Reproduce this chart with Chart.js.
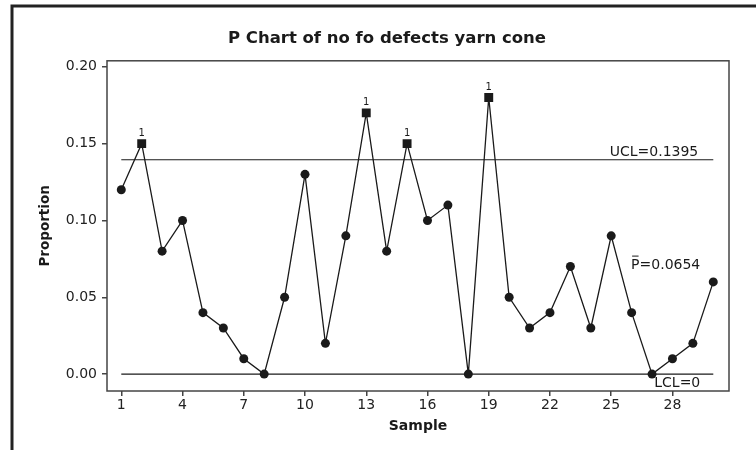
<!DOCTYPE html>
<html>
<head>
<meta charset="utf-8">
<script src="https://cdn.jsdelivr.net/npm/chart.js@4.4.0/dist/chart.umd.min.js"></script>
<style>
    html, body { margin: 0; padding: 0; background: #fff; }
    #wrap { width: 756px; height: 450px; }
</style>
</head>
<body>
<div id="wrap"><canvas id="pchart" width="756" height="450"></canvas></div>
<script>
// sample numbers and the proportion defective for each one
const samples = [1, 2, 3, 4, 5, 6, 7, 8, 9, 10, 11, 12, 13, 14, 15, 16, 17, 18, 19, 20, 21, 22, 23, 24, 25, 26, 27, 28, 29, 30];
const proportions = [0.12, 0.15, 0.08, 0.10, 0.04, 0.03, 0.01, 0.00, 0.05, 0.13, 0.02, 0.09, 0.17, 0.08, 0.15,
    0.10, 0.11, 0.00, 0.18, 0.05, 0.03, 0.04, 0.07, 0.03, 0.09, 0.04, 0.00, 0.01, 0.02, 0.06];
// samples flagged by test 1 (beyond the control limits)
const outOfControl = [2, 13, 15, 19];

const ucl = 0.1395;
const pBar = 0.0654;
const lcl = 0;

const xTicks = [1, 4, 7, 10, 13, 16, 19, 22, 25, 28];
const yTicks = [0.00, 0.05, 0.10, 0.15, 0.20];

const ink = '#1a1a1a';

let pointData = samples.map((s, i) => ({x: s, y: proportions[i]}));
let flagged = samples.map(s => outOfControl.includes(s));

// draws the outer frame, the plot box and the control line labels
const annotate = {
    id: 'annotate',
    beforeDraw(chart) {
        const ctx = chart.ctx;
        ctx.save();
        ctx.strokeStyle = '#222';
        ctx.lineWidth = 3;
        ctx.beginPath();
        ctx.moveTo(12, 450);
        ctx.lineTo(12, 6);
        ctx.lineTo(756, 6);
        ctx.stroke();
        ctx.restore();
    },
    afterDraw(chart) {
        const ctx = chart.ctx;
        const area = chart.chartArea;
        const xs = chart.scales.x;
        const ys = chart.scales.y;
        ctx.save();

        ctx.strokeStyle = '#444';
        ctx.lineWidth = 1.5;
        ctx.strokeRect(area.left, area.top, area.right - area.left, area.bottom - area.top);

        // "1" above each out of control point
        ctx.fillStyle = ink;
        ctx.font = '10px "DejaVu Sans"';
        ctx.textAlign = 'center';
        ctx.textBaseline = 'alphabetic';
        samples.forEach((s, i) => {
            if (flagged[i]) {
                ctx.fillText('1', xs.getPixelForValue(s), ys.getPixelForValue(proportions[i]) - 8);
            }
        });

        // control limit labels
        const rightX = xs.getPixelForValue(samples[samples.length - 1]) - 13;
        ctx.font = '14px "DejaVu Sans"';
        ctx.textAlign = 'right';
        ctx.fillText('UCL=' + ucl, rightX - 2, ys.getPixelForValue(ucl) - 4);

        // P-bar: text plus a bar over the P
        const pText = 'P=' + pBar;
        const pBase = ys.getPixelForValue(pBar) - 5;
        ctx.fillText(pText, rightX, pBase);
        const pLeft = rightX - ctx.measureText(pText).width;
        const pWidth = ctx.measureText('P').width;
        ctx.strokeStyle = ink;
        ctx.lineWidth = 1;
        ctx.beginPath();
        ctx.moveTo(pLeft + 1, pBase - 12.5);
        ctx.lineTo(pLeft + pWidth - 1, pBase - 12.5);
        ctx.stroke();

        ctx.textBaseline = 'top';
        ctx.fillText('LCL=' + lcl, rightX, ys.getPixelForValue(lcl) + 2);

        ctx.restore();
    }
};

const config = {
    type: 'line',
    data: {
        datasets: [
            {
                label: 'Proportion',
                data: pointData,
                borderColor: ink,
                borderWidth: 1.3,
                backgroundColor: ink,
                pointBackgroundColor: ink,
                pointBorderColor: ink,
                pointBorderWidth: 0,
                pointStyle: flagged.map(f => f ? 'rect' : 'circle'),
                pointRadius: flagged.map(f => f ? 6.3 : 4.5),
                tension: 0
            },
            {
                label: 'UCL',
                data: [{x: samples[0], y: ucl}, {x: samples[samples.length - 1], y: ucl}],
                borderColor: ink,
                borderWidth: 1.2,
                pointRadius: 0
            },
            {
                label: 'LCL',
                data: [{x: samples[0], y: lcl}, {x: samples[samples.length - 1], y: lcl}],
                borderColor: ink,
                borderWidth: 1.2,
                pointRadius: 0
            }
        ]
    },
    options: {
        responsive: false,
        animation: false,
        layout: {
            padding: {left: 18, right: 0, top: 0, bottom: 0}
        },
        plugins: {
            legend: {display: false},
            tooltip: {enabled: false},
            title: {
                display: true,
                text: 'P Chart of no fo defects yarn cone',
                color: ink,
                font: {family: '"DejaVu Sans"', size: 16.5, weight: 'bold'},
                padding: {top: 29, bottom: 12}
            }
        },
        scales: {
            x: {
                type: 'linear',
                min: 0.3,
                max: 30.77,
                afterBuildTicks: (scale) => {
                    scale.ticks = xTicks.map(v => ({value: v}));
                },
                afterFit: (scale) => {
                    scale.height = 59;
                },
                grid: {drawOnChartArea: false, drawTicks: true, tickLength: 5, color: '#444', lineWidth: 1.5},
                border: {display: false},
                ticks: {
                    color: '#222',
                    font: {family: '"DejaVu Sans"', size: 14},
                    padding: 1,
                    maxRotation: 0,
                    autoSkip: false
                },
                title: {
                    display: true,
                    text: 'Sample',
                    color: ink,
                    font: {family: '"DejaVu Sans"', size: 14, weight: 'bold'},
                    padding: {top: 0, bottom: 15}
                }
            },
            y: {
                min: -0.011,
                max: 0.2039,
                afterBuildTicks: (scale) => {
                    scale.ticks = yTicks.map(v => ({value: v}));
                },
                afterFit: (scale) => {
                    scale.width = 89;
                },
                grid: {drawOnChartArea: false, drawTicks: true, tickLength: 5, color: '#444', lineWidth: 1.5},
                border: {display: false},
                ticks: {
                    color: '#222',
                    font: {family: '"DejaVu Sans"', size: 14},
                    padding: 5,
                    callback: (value) => value.toFixed(2)
                },
                title: {
                    display: true,
                    text: 'Proportion',
                    color: ink,
                    font: {family: '"DejaVu Sans"', size: 13.5, weight: 'bold'},
                    padding: {top: 19, bottom: 0}
                }
            },
            // empty axis that only keeps the right margin
            y2: {
                position: 'right',
                display: true,
                grid: {display: false},
                border: {display: false},
                ticks: {display: false},
                afterFit: (scale) => {
                    scale.width = 27;
                }
            }
        }
    },
    plugins: [annotate]
};

const pChart = new Chart(document.getElementById('pchart'), config);
</script>
</body>
</html>
